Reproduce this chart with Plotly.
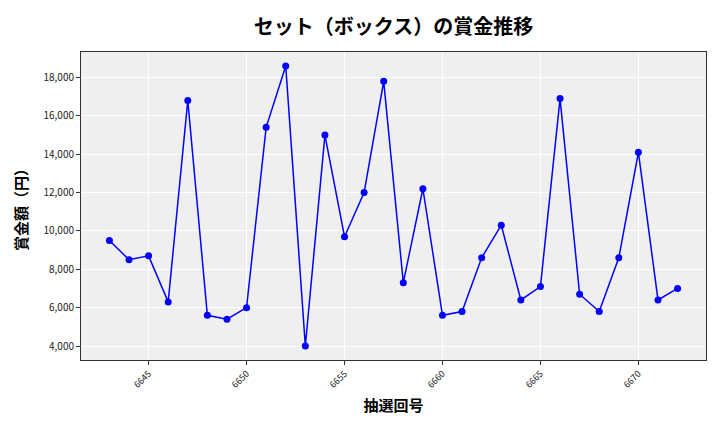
import plotly.graph_objects as go

draws = list(range(6643, 6673))
prizes = [9500, 8500, 8700, 6300, 16800, 5600, 5400, 6000, 15400, 18600,
          4000, 15000, 9700, 12000, 17800, 7300, 12200, 5600, 5800, 8600,
          10300, 6400, 7100, 16900, 6700, 5800, 8600, 14100, 6400, 7000]
x_ticks = [6645, 6650, 6655, 6660, 6665, 6670]
y_ticks = [4000, 6000, 8000, 10000, 12000, 14000, 16000, 18000]

title = "セット（ボックス）の賞金推移"
x_title = "抽選回号"
y_title = "賞金額（円）"

font_family = "Noto Sans CJK JP"

fig = go.Figure()
fig.add_trace(go.Scatter(
    x=draws, y=prizes, mode="lines+markers",
    line=dict(color="#0000ff", width=1.5),
    marker=dict(color="#0000ff", size=7),
))

span_x = draws[-1] - draws[0]
span_y = max(prizes) - min(prizes)
fig.update_layout(
    width=720, height=432,
    margin=dict(l=81, r=14, t=52, b=72),
    paper_bgcolor="white",
    plot_bgcolor="#efefef",
    showlegend=False,
    font=dict(family=font_family, color="#000000"),
    title=dict(text="<b>" + title + "</b>", xref="paper", x=0.5, xanchor="center",
               y=0.938, yanchor="middle",
               font=dict(size=20, family=font_family, color="#000000")),
)
fig.update_xaxes(
    range=[draws[0] - 0.05 * span_x, draws[-1] + 0.05 * span_x],
    tickvals=x_ticks, ticktext=[str(v) for v in x_ticks],
    tickangle=-45, tickfont=dict(size=9, color="#222222"),
    ticks="outside", ticklen=4, tickcolor="#333333",
    showgrid=True, gridcolor="white", gridwidth=1,
    showline=True, linecolor="#333333", linewidth=1, mirror=True,
    zeroline=False,
    title=dict(text="<b>" + x_title + "</b>", font=dict(size=15), standoff=10),
)
fig.update_yaxes(
    range=[min(prizes) - 0.05 * span_y, max(prizes) + 0.05 * span_y],
    tickvals=y_ticks, ticktext=[f"{v:,}" for v in y_ticks],
    tickfont=dict(size=10, color="#222222"),
    ticks="outside", ticklen=4, tickcolor="#333333",
    showgrid=True, gridcolor="white", gridwidth=1,
    showline=True, linecolor="#333333", linewidth=1, mirror=True,
    zeroline=False,
    title=dict(text="<b>" + y_title + "</b>", font=dict(size=15), standoff=12),
)

fig.write_html("out.html")
